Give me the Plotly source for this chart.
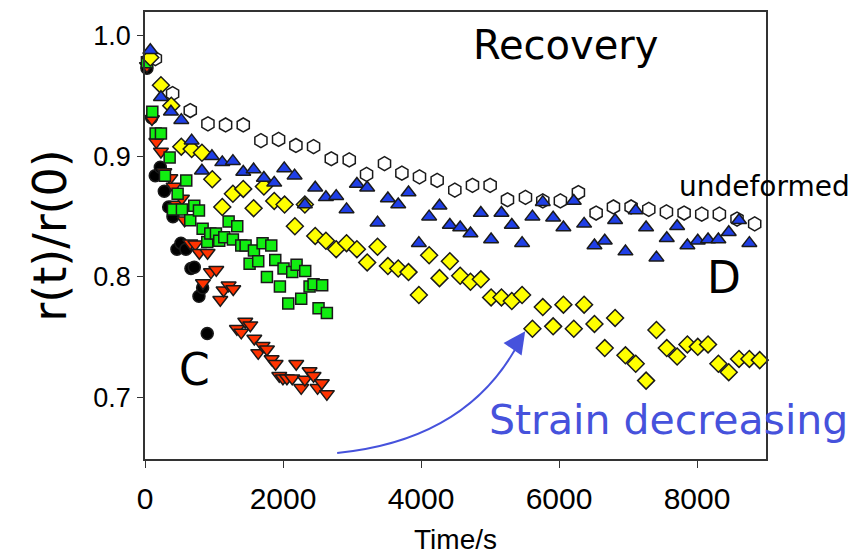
import plotly.graph_objects as go

# ---- data (time in s, r(t)/r(0)) ----
hex_t = [150, 400, 656, 912, 1168, 1424, 1680, 1936, 2187, 2443, 2700, 2960, 3211, 3471, 3723,
         3978, 4234, 4490, 4746, 5002, 5253, 5514, 5765, 6020, 6281, 6538, 6789, 7045, 7301,
         7557, 7813, 8069, 8324, 8580, 8836]
hex_v = [0.981, 0.952, 0.938, 0.927, 0.926, 0.926, 0.913, 0.914, 0.909, 0.908, 0.898, 0.897,
         0.885, 0.894, 0.886, 0.883, 0.880, 0.872, 0.876, 0.876, 0.864, 0.866, 0.863, 0.863,
         0.870, 0.853, 0.858, 0.858, 0.856, 0.854, 0.853, 0.852, 0.852, 0.848, 0.844]

blue_t = [77, 231, 376, 526, 676, 825, 970, 1120, 1274, 1424, 1574, 1723, 1873, 2018, 2168,
          2317, 2467, 2622, 2771, 2921, 3071, 3220, 3370, 3520, 3670, 3819, 3969, 4118, 4268,
          4418, 4568, 4717, 4867, 5016, 5166, 5316, 5465, 5615, 5765, 5915, 6064, 6214, 6364,
          6514, 6663, 6813, 6963, 7112, 7262, 7412, 7562, 7712, 7861, 8011, 8160, 8310, 8460,
          8609, 8759]
blue_v = [0.988, 0.949, 0.937, 0.930, 0.913, 0.888, 0.900, 0.895, 0.896, 0.887, 0.889, 0.882,
          0.878, 0.890, 0.884, 0.860, 0.874, 0.866, 0.867, 0.856, 0.877, 0.874, 0.845, 0.865,
          0.860, 0.870, 0.828, 0.850, 0.859, 0.843, 0.841, 0.836, 0.853, 0.831, 0.853, 0.843,
          0.828, 0.850, 0.862, 0.849, 0.841, 0.863, 0.844, 0.826, 0.830, 0.847, 0.821, 0.855,
          0.841, 0.816, 0.832, 0.842, 0.826, 0.830, 0.831, 0.831, 0.837, 0.847, 0.828]

yel_t = [77, 231, 381, 526, 676, 825, 975, 1120, 1274, 1424, 1574, 1723, 1873, 2023, 2172,
         2317, 2467, 2622, 2771, 2921, 3071, 3220, 3370, 3520, 3670, 3819, 3969, 4118, 4268,
         4418, 4568, 4717, 4867, 5016, 5166, 5316, 5465, 5615, 5765, 5915, 6064, 6214, 6364,
         6514, 6663, 6813, 6963, 7112, 7262, 7412, 7562, 7712, 7861, 8011, 8160, 8310, 8460,
         8609, 8759, 8909]
yel_v = [0.982, 0.959, 0.942, 0.908, 0.906, 0.903, 0.881, 0.858, 0.869, 0.873, 0.857, 0.875,
         0.863, 0.860, 0.842, 0.860, 0.834, 0.830, 0.823, 0.828, 0.823, 0.812, 0.825, 0.809,
         0.807, 0.804, 0.785, 0.818, 0.799, 0.813, 0.801, 0.796, 0.798, 0.783, 0.783, 0.780,
         0.785, 0.757, 0.775, 0.759, 0.777, 0.757, 0.777, 0.761, 0.741, 0.766, 0.735, 0.728,
         0.714, 0.756, 0.741, 0.734, 0.744, 0.742, 0.744, 0.728, 0.721, 0.732, 0.732, 0.731]

grn_t = [28, 106, 154, 231, 289, 357, 405, 473, 535, 598, 656, 714, 782, 835, 902, 946, 1028,
         1076, 1149, 1212, 1274, 1337, 1395, 1458, 1516, 1579, 1641, 1704, 1767, 1830, 1888,
         1955, 2008, 2076, 2134, 2197, 2264, 2322, 2385, 2443, 2515, 2568, 2636]
grn_v = [0.978, 0.937, 0.919, 0.919, 0.884, 0.899, 0.856, 0.869, 0.856, 0.880, 0.847, 0.859,
         0.855, 0.840, 0.829, 0.836, 0.836, 0.830, 0.833, 0.846, 0.831, 0.842, 0.826, 0.826,
         0.811, 0.822, 0.813, 0.828, 0.800, 0.826, 0.814, 0.792, 0.807, 0.778, 0.804, 0.810,
         0.782, 0.805, 0.792, 0.794, 0.774, 0.793, 0.770]

blk_t = [28, 96, 149, 222, 280, 343, 405, 463, 521, 593, 666, 714, 782, 835, 902]
blk_v = [0.973, 0.932, 0.884, 0.891, 0.871, 0.858, 0.850, 0.823, 0.828, 0.823, 0.807, 0.808,
         0.784, 0.791, 0.753]

red_t = [28, 101, 164, 231, 280, 367, 415, 463, 535, 574, 656, 729, 787, 840, 907, 956, 1033,
         1091, 1139, 1212, 1279, 1332, 1395, 1453, 1526, 1584, 1641, 1704, 1767, 1835, 1893,
         1946, 1999, 2057, 2134, 2192, 2264, 2317, 2385, 2443, 2501, 2563, 2636]
red_v = [0.975, 0.931, 0.912, 0.904, 0.887, 0.882, 0.875, 0.860, 0.865, 0.847, 0.828, 0.827,
         0.820, 0.795, 0.820, 0.804, 0.806, 0.781, 0.789, 0.793, 0.790, 0.757, 0.754, 0.763,
         0.760, 0.749, 0.737, 0.743, 0.740, 0.732, 0.728, 0.718, 0.716, 0.716, 0.716, 0.728,
         0.708, 0.715, 0.722, 0.718, 0.708, 0.712, 0.703]

x_ticks = [0, 2000, 4000, 6000, 8000]
y_ticks = [0.7, 0.8, 0.9, 1.0]

OUT = dict(color="#1a1a1a", width=1.5)

fig = go.Figure()

def add(t, v, symbol, color, size, name):
    fig.add_trace(go.Scatter(x=t, y=v, mode="markers", name=name,
                             marker=dict(symbol=symbol, color=color, size=size, line=OUT),
                             cliponaxis=False))

add(blk_t, blk_v, "circle", "#000000", 12, "black")
add(red_t, red_v, "triangle-down", "#ff3300", 13, "red")
add(grn_t, grn_v, "square", "#11ee11", 11, "green")
add(hex_t, hex_v, "hexagon", "#ffffff", 14, "undeformed")
add(yel_t, yel_v, "diamond", "#ffff00", 13, "yellow")
add(blue_t, blue_v, "triangle-up", "#1f3fe6", 13, "blue")

ARROW = "#4652dc"

# curved arrow
fig.add_shape(type="path", xref="x", yref="y",
              path="M 2785,0.654 Q 4713,0.665 5450,0.749",
              line=dict(color=ARROW, width=2))
fig.add_annotation(x=5510, y=0.755, xref="x", yref="y", text="", showarrow=True,
                   ax=-7, ay=10, arrowhead=2, arrowsize=2.2, arrowwidth=2, arrowcolor=ARROW)

fig.add_annotation(x=6088, y=0.992, xref="x", yref="y", text="Recovery", showarrow=False,
                   font=dict(family="DejaVu Sans", size=40, color="black"))
fig.add_annotation(x=8985, y=0.8746, xref="x", yref="y", text="undeformed", showarrow=False,
                   font=dict(family="DejaVu Sans", size=28, color="black"))
fig.add_annotation(x=8392, y=0.7994, xref="x", yref="y", text="D", showarrow=False,
                   font=dict(family="DejaVu Sans", size=44, color="black"))
fig.add_annotation(x=717, y=0.7234, xref="x", yref="y", text="C", showarrow=False,
                   font=dict(family="DejaVu Sans", size=44, color="black"))
fig.add_annotation(x=7580, y=0.681, xref="x", yref="y", text="Strain decreasing", showarrow=False,
                   font=dict(family="DejaVu Sans", size=41, color=ARROW))

# page body adds an 8px margin; figure is sized so the plot lands where the reference has it
fig.update_layout(
    width=857, height=548,
    margin=dict(l=137, r=99, t=2, b=97),
    paper_bgcolor="white", plot_bgcolor="white",
    showlegend=False,
)
fig.update_xaxes(range=[0, 9000], tickvals=x_ticks, ticktext=[str(v) for v in x_ticks],
                 showline=True, mirror=True, linecolor="#333333", linewidth=1.5,
                 ticks="outside", ticklen=7, tickcolor="#333333", showgrid=False, zeroline=False,
                 ticklabelstandoff=5,
                 tickfont=dict(family="Liberation Sans Narrow, Liberation Sans, Arial", size=30, color="black"),
                 title=dict(text="Time/s", standoff=16,
                            font=dict(family="Liberation Sans Narrow, Liberation Sans, Arial", size=28, color="black")))
fig.update_yaxes(range=[0.649, 1.0197], tickvals=y_ticks, ticktext=["%.1f" % v for v in y_ticks],
                 showline=True, mirror=True, linecolor="#333333", linewidth=1.5,
                 ticks="outside", ticklen=6, tickcolor="#333333", showgrid=False, zeroline=False,
                 ticklabelstandoff=1,
                 tickfont=dict(family="Liberation Sans, Arial", size=27, color="black"),
                 title=dict(text="r(t)/r(0)", standoff=12,
                            font=dict(family="DejaVu Sans", size=46, color="black")))

fig.write_html("out.html")
